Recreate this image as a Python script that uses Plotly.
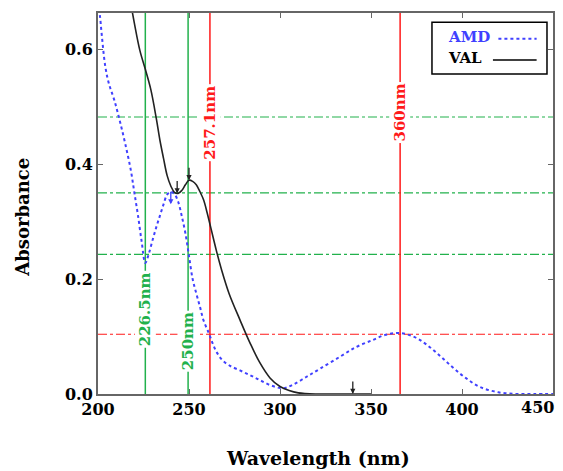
import plotly.graph_objects as go

# ---- data ----
val_x = [218, 220, 223, 226, 229, 232, 234, 236, 238, 240, 242, 244, 246, 248, 250, 252, 254, 256, 258,
         260, 262, 265, 268, 272, 278, 283.5, 289, 294.5, 300, 305, 310, 320, 330, 340, 350]
val_y = [0.68, 0.645, 0.598, 0.565, 0.53, 0.48, 0.442, 0.41, 0.38, 0.362, 0.351, 0.349, 0.354, 0.364, 0.372,
         0.370, 0.364, 0.352, 0.338, 0.315, 0.289, 0.25, 0.215, 0.175, 0.129, 0.089, 0.054, 0.028,
         0.013, 0.006, 0.002, 0.0, 0.0, 0.0, 0.0]

amd_x = [200, 201, 202, 204, 206, 209, 212, 215, 218, 220, 222, 224, 226, 228, 230, 232, 234, 236, 238,
         240, 242, 244, 246, 248, 250, 252, 254, 256, 258, 261, 263, 265, 268, 272, 278, 284, 289, 295,
         301.6, 307, 314.6, 322, 333, 342, 351, 358, 366, 374, 380.5, 388, 395, 402, 410, 420, 430, 440, 450]
amd_y = [0.68, 0.66, 0.627, 0.57, 0.54, 0.511, 0.475, 0.435, 0.39, 0.35, 0.31, 0.265, 0.228, 0.245, 0.268,
         0.29, 0.31, 0.33, 0.347, 0.352, 0.348, 0.335, 0.31, 0.28, 0.24, 0.20, 0.175, 0.152, 0.128, 0.105,
         0.088, 0.074, 0.06, 0.05, 0.041, 0.032, 0.024, 0.015, 0.01, 0.016, 0.03, 0.044, 0.065, 0.082,
         0.094, 0.103, 0.106, 0.099, 0.086, 0.066, 0.046, 0.028, 0.012, 0.003, 0.0, 0.0, 0.0]

vlines_green = [226, 249.5]
vlabels_green = ["226.5nm", "250nm"]
vlabel_green_y = [0.148, 0.092]
vlines_red = [261.5, 366]
vlabels_red = ["257.1nm", "360nm"]
vlabel_red_y = [0.472, 0.49]
hlines_green = [0.482, 0.350, 0.243]
hlines_red = [0.104]

x_ticks = [200, 250, 300, 350, 400, 450]
y_ticks = [0.0, 0.2, 0.4, 0.6]

GREEN = "#22b14c"
RED = "#ff1a1a"
BLUE = "#4040ff"
FONT = "DejaVu Serif"

fig = go.Figure()

shapes = []
for y in hlines_green:
    shapes.append(dict(type="line", xref="paper", x0=0, x1=1, yref="y", y0=y, y1=y,
                       line=dict(color=GREEN, width=1.2, dash="dashdot"), layer="below"))
for y in hlines_red:
    shapes.append(dict(type="line", xref="paper", x0=0, x1=1, yref="y", y0=y, y1=y,
                       line=dict(color=RED, width=1.2, dash="dashdot"), layer="below"))
for x in vlines_green:
    shapes.append(dict(type="line", xref="x", x0=x, x1=x, yref="paper", y0=0, y1=1,
                       line=dict(color=GREEN, width=1.5), layer="below"))
for x in vlines_red:
    shapes.append(dict(type="line", xref="x", x0=x, x1=x, yref="paper", y0=0, y1=1,
                       line=dict(color=RED, width=1.5), layer="below"))

fig.add_trace(go.Scatter(x=amd_x, y=amd_y, mode="lines", line=dict(color=BLUE, width=2, dash="dot"),
                         line_shape="spline", showlegend=False, name="AMD"))
fig.add_trace(go.Scatter(x=val_x, y=val_y, mode="lines", line=dict(color="#222222", width=1.6),
                         line_shape="spline", showlegend=False, name="VAL"))

annotations = []
for x, t, y in zip(vlines_green, vlabels_green, vlabel_green_y):
    annotations.append(dict(x=x, y=y, xref="x", yref="y", text="<b>%s</b>" % t, textangle=-90,
                            showarrow=False, bgcolor="white", borderpad=1,
                            font=dict(family=FONT, size=15, color=GREEN)))
for x, t, y in zip(vlines_red, vlabels_red, vlabel_red_y):
    annotations.append(dict(x=x, y=y, xref="x", yref="y", text="<b>%s</b>" % t, textangle=-90,
                            showarrow=False, bgcolor="white", borderpad=1,
                            font=dict(family=FONT, size=15, color=RED)))

# small peak markers
for (ax_, ay_, col) in [(250, 0.372, "#222222"), (243.5, 0.349, "#222222"), (240, 0.33, BLUE), (340, 0.0, "#222222")]:
    annotations.append(dict(x=ax_, y=ay_, xref="x", yref="y", ax=0, ay=-14, text="", showarrow=True,
                            arrowhead=2, arrowsize=0.8, arrowwidth=1.3, arrowcolor=col))

# legend box
shapes.append(dict(type="rect", xref="x", yref="y", x0=383.5, x1=446.7, y0=0.557, y1=0.647,
                   line=dict(color="black", width=1.5), fillcolor="white"))
shapes.append(dict(type="line", xref="x", yref="y", x0=420, x1=441, y0=0.618, y1=0.618,
                   line=dict(color=BLUE, width=2, dash="dot")))
shapes.append(dict(type="line", xref="x", yref="y", x0=417, x1=441, y0=0.581, y1=0.581,
                   line=dict(color="black", width=1.5)))
annotations.append(dict(x=391, y=0.622, xref="x", yref="y", xanchor="left", text="<b>AMD</b>",
                        showarrow=False, font=dict(family=FONT, size=15, color=BLUE)))
annotations.append(dict(x=391, y=0.585, xref="x", yref="y", xanchor="left", text="<b>VAL</b>",
                        showarrow=False, font=dict(family=FONT, size=15, color="black")))

# last x tick label (placed so it stays inside the page)
annotations.append(dict(x=1.0, y=0, xref="paper", yref="paper", xanchor="right", yanchor="top",
                        xshift=3, yshift=-2, text="<b>%d</b>" % x_ticks[-1], showarrow=False,
                        font=dict(family=FONT, size=16, color="black")))

# axis titles
annotations.append(dict(x=0.4835, y=-0.168, xref="paper", yref="paper", yanchor="middle",
                        text="<b>Wavelength (nm)</b>", showarrow=False,
                        font=dict(family=FONT, size=19, color="black")))
annotations.append(dict(x=-0.165, y=0.465, xref="paper", yref="paper", xanchor="center",
                        text="<b>Absorbance</b>", textangle=-90, showarrow=False,
                        font=dict(family=FONT, size=18, color="black")))

fig.update_layout(
    width=555, height=463,
    margin=dict(l=90, r=10, t=5, b=77),
    paper_bgcolor="white", plot_bgcolor="white",
    shapes=shapes, annotations=annotations,
    xaxis=dict(range=[200, 450], tickvals=x_ticks,
               ticktext=["<b>%d</b>" % v for v in x_ticks[:-1]] + [""],
               automargin=False,
               showgrid=False, zeroline=False, showline=True, linecolor="#666666", linewidth=2,
               mirror="ticks", ticks="inside", ticklen=5, tickcolor="#666666",
               tickfont=dict(family=FONT, size=16, color="black")),
    yaxis=dict(range=[0, 0.663], tickvals=y_ticks, ticktext=["<b>%.1f</b>" % v for v in y_ticks],
               automargin=False,
               showgrid=False, zeroline=False, showline=True, linecolor="#666666", linewidth=2,
               mirror="ticks", ticks="inside", ticklen=5, tickcolor="#666666",
               tickfont=dict(family=FONT, size=16, color="black")),
)

fig.write_html("out.html")
